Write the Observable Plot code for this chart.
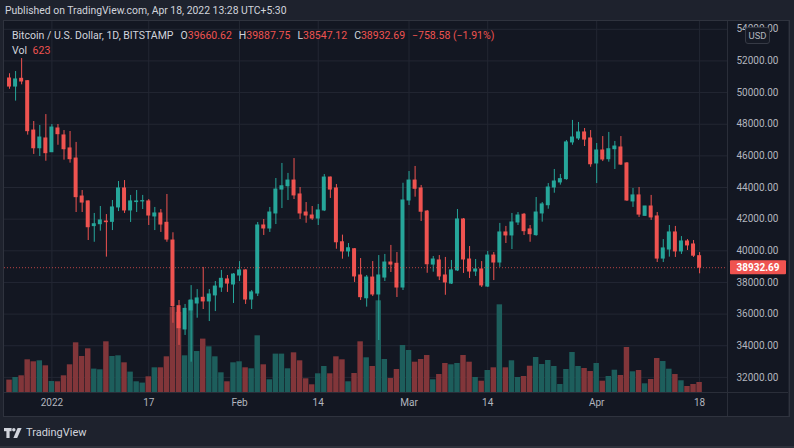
<!DOCTYPE html>
<html><head><meta charset="utf-8">
<script src="https://cdn.jsdelivr.net/npm/d3@7"></script>
<script src="https://cdn.jsdelivr.net/npm/@observablehq/plot@0.6"></script>
<style>
body{margin:0;background:#1e222d;}
#wrap{position:relative;width:794px;height:448px;overflow:hidden;background:#1e222d;font-family:Roboto,"Noto Sans",sans-serif;}
#hdr{position:absolute;left:5px;top:4px;font-size:10.4px;color:#d1d4dc;white-space:nowrap;}
#chart{position:absolute;left:4px;top:20px;width:784px;height:396px;background:#131722;overflow:hidden;}
#chart svg{position:absolute;left:0;top:0;}
#frame{position:absolute;left:3px;top:20px;width:785px;height:395px;border:1px solid #2f333e;pointer-events:none;}
#hline{position:absolute;left:4px;top:392px;width:784px;height:1px;background:#2a2e39;}
#vline{position:absolute;left:727px;top:20px;width:1px;height:396px;background:#2a2e39;}
#legend{position:absolute;left:12px;top:28px;font-size:10.5px;color:#d1d4dc;white-space:nowrap;line-height:15px;}
#legend .v{color:#ef5350;}
#legend .g{margin-left:7px;}
#usd{position:absolute;left:745px;top:27px;width:23px;height:15px;border:1px solid #363a45;border-radius:3px;background:#161a25;color:#b2b5be;font-size:9.5px;text-align:center;line-height:15px;}
#foot{position:absolute;left:4px;top:426px;height:13px;display:flex;align-items:center;color:#d1d4dc;font-size:11px;}
#foot svg{margin-right:4px;}
#bottomstrip{position:absolute;left:0;top:446px;width:794px;height:2px;background:#2e323c;}
</style></head>
<body>
<div id="wrap">
  <div id="hdr">Published on TradingView.com, Apr 18, 2022 13:28 UTC+5:30</div>
  <div id="chart"></div>
  <div id="hline"></div>
  <div id="vline"></div>
  <div id="frame"></div>
  <div id="legend"></div>
  <div id="usd">USD</div>
  <div id="foot"><svg width="18" height="10" viewBox="0 0 18 10"><rect x="0" y="0" width="7.6" height="3.2" fill="#d1d4dc"/><rect x="2.4" y="0" width="3.2" height="10" fill="#d1d4dc"/><circle cx="9.8" cy="1.7" r="1.7" fill="#d1d4dc"/><polygon points="13.6,0 17.6,0 13.2,10 9.4,10" fill="#d1d4dc"/></svg><span>TradingView</span></div>
  <div id="bottomstrip"></div>
</div>
<script>
// ---- data (BTC/USD, 1D, Bitstamp) ----
const firstDay = "2021-12-25";
const open = [
50890,50380,50870,50720,47600,46480,47100,46230,47730,47290,
46470,45830,43430,43120,41560,41680,41850,41830,42740,43940,
42550,43080,43120,43120,42170,42360,41770,40650,36500,35030,
36230,36670,37030,36800,37180,37680,38190,37870,38440,38760,
36920,37300,41600,41410,42360,43870,44080,44440,43560,42420,
42230,42040,42550,44630,43940,40540,39960,40100,38440,37000,
38310,37240,38310,39260,39180,37680,43180,44440,43940,42480,
39130,39390,38440,37930,38760,41980,39450,38690,38820,37740,
39700,39260,41160,40970,41790,42280,41350,40990,42360,42880,
44000,44320,44530,46850,47100,47480,47100,45520,46340,45790,
46420,46530,45520,43120,43500,42210,42800,42170,39510,40080,
41160,39960,40590,40400,39660.62];
const high = [
51190,51330,52150,50760,48170,47920,48610,47980,47980,47600,
47540,46850,43810,43150,42360,42800,42290,43180,44380,44440,
43500,43810,43500,43240,42740,42610,43560,41140,36860,36610,
37800,37550,38950,37550,38060,38760,38440,38560,39320,38800,
37490,41790,41980,42740,44570,45520,44890,45830,44000,43050,
42800,42930,44820,44660,44190,40990,40460,40140,39510,38440,
39320,39700,39770,40340,39890,44270,45010,45330,44130,42550,
39640,39700,39580,39390,42610,42040,40270,39450,39320,39960,
39890,41730,41540,42360,42420,42360,41600,43370,43050,44250,
45140,44820,46970,48240,48110,47730,47600,46780,47220,47480,
46910,47220,45580,43940,44000,42810,43500,42420,40710,41600,
41540,40900,40710,40650,39887.75];
const low = [
50210,49460,50490,47310,46090,45960,45660,46210,46670,45730,
45540,42420,42420,40650,40540,41240,39600,41280,42480,42360,
41790,42420,42610,41600,41280,41160,40540,35420,34020,34650,
32960,35740,36290,35530,36160,37370,37370,36670,38060,36610,
36290,37110,40970,41160,41660,42670,43180,43240,41980,41740,
41920,41600,42480,43310,40100,39470,39600,38000,36860,36440,
37110,34330,38060,38630,37050,37490,42860,43390,41850,38580,
38650,38120,37190,37870,38690,38570,38250,38380,37680,37680,
38120,38950,40460,40080,41600,40970,40540,40920,41810,42630,
43640,44150,44460,46670,46970,46590,45280,44250,45640,45600,
45140,45390,43120,42740,42110,42170,41920,39260,39260,39600,
39580,39770,40020,39580,38547.12];
const close = [
50380,50830,50700,47560,46480,47160,46170,47790,47370,46420,
45790,43390,43050,41490,41680,41920,41810,42740,43940,42550,
43120,43120,43140,42230,42360,41660,40710,36500,35110,36330,
36860,36990,36800,37240,37740,38230,37930,38500,38760,36920,
37370,41600,41410,42420,43870,44080,44440,43500,42360,42230,
42040,42550,44630,43870,40540,39960,40160,38380,37070,38310,
37240,38440,39260,39130,37680,43180,44440,43920,42470,39150,
39450,38380,38000,38760,41980,39450,38690,38820,37810,39700,
39260,41160,40970,41790,42230,41240,41050,42420,42930,44000,
44380,44530,46850,47160,47480,47030,45470,46340,45770,46420,
46590,45450,43180,43500,42290,42800,42110,39510,40150,41160,
39960,40590,40340,39691.27,38932.69];
const volume = [
773,935,1040,2037,1913,1975,1663,685,667,1040,
1726,3096,2243,2723,1458,1414,3159,2243,2286,1850,
1271,667,586,978,1539,1539,2224,5300,4990,2286,
5732,2554,3327,2847,2224,1227,667,1850,1913,1539,
1477,3532,1726,791,2392,2392,1477,2473,1975,854,
480,1165,1620,1165,2224,2037,667,1184,3159,2162,
1620,5713,2056,872,1433,2928,2617,1888,2056,2305,
791,1121,1807,1726,1807,2305,1888,935,704,1371,
1539,5464,1539,1975,935,997,1638,2181,1744,1994,
1620,498,1433,2492,1620,1495,1308,1807,704,997,
1389,1059,2804,1290,1371,542,810,2118,1931,1452,
1121,729,374,498,623];
const priceTicks = [32000,34000,36000,38000,40000,42000,44000,46000,48000,50000,52000,54000];
const xTickDates = ["2022-01-01","2022-01-17","2022-02-01","2022-02-14","2022-03-01","2022-03-14","2022-04-01","2022-04-18"];
const xTickLabels = ["2022","17","Feb","14","Mar","14","Apr","18"];

// ---- build ----
const UP = "#26a69a", DOWN = "#ef5350";
const UPV = "#1d5e5c", DOWNV = "#82363a";
const DAY = 864e5;
const t0 = Date.parse(firstDay + "T00:00:00Z");
const rows = open.map((o, i) => ({
  date: new Date(t0 + i * DAY), o, h: high[i], l: low[i], c: close[i], v: volume[i], up: close[i] >= o
}));
const ticks = xTickDates.map(s => new Date(s + "T00:00:00Z"));
const jan1 = Date.parse("2022-01-01T00:00:00Z");
const xDomain = [new Date(jan1 - 7.831 * DAY), new Date(jan1 + 111.61 * DAY)];
const W = 784, H = 396;
const base = {
  width: W, height: H, marginLeft: 0, marginRight: 61, marginTop: 0, marginBottom: 24,
  x: {type: "utc", domain: xDomain, axis: null},
  color: {type: "identity"},
  style: {background: "transparent", fontFamily: "Roboto, 'Noto Sans', sans-serif", fontSize: "10px", overflow: "visible"}
};
const yPrice = {domain: [31045, 54555], axis: null};

const gridPlot = Plot.plot({
  ...base, y: yPrice,
  marks: [
    Plot.ruleY(priceTicks, {y: d => d, stroke: "#232733", strokeWidth: 1}),
    Plot.ruleX(ticks, {x: d => d, stroke: "#232733", strokeWidth: 1}),
    Plot.text(priceTicks, {y: d => d, text: d => d.toFixed(2), frameAnchor: "right", dx: 9, textAnchor: "start", fill: "#b2b5be", fontSize: 10}),
    Plot.text(ticks, {x: d => d, text: (d, i) => xTickLabels[i], frameAnchor: "bottom", dy: 13, fill: "#b2b5be", fontSize: 10})
  ]
});

const volPlot = Plot.plot({
  ...base, y: {domain: [0, 23180], axis: null},
  marks: [
    Plot.rectY(rows, {
      x1: d => new Date(+d.date - 0.45 * DAY), x2: d => new Date(+d.date + 0.45 * DAY),
      y1: 0, y2: "v", fill: d => d.up ? UPV : DOWNV
    })
  ]
});

const last = rows[rows.length - 1];
const candlePlot = Plot.plot({
  ...base, y: yPrice,
  marks: [
    Plot.ruleX(rows, {x: "date", y1: "l", y2: "h", stroke: d => d.up ? UP : DOWN, strokeWidth: 1}),
    Plot.rect(rows, {
      x1: d => new Date(+d.date - 0.33 * DAY), x2: d => new Date(+d.date + 0.33 * DAY),
      y1: "o", y2: "c", fill: d => d.up ? UP : DOWN, insetTop: -0.5, insetBottom: -0.5
    }),
    Plot.ruleY([last.c], {y: d => d, stroke: DOWN, strokeOpacity: 0.75, strokeDasharray: "1,2"})
  ]
});

const host = document.getElementById("chart");
host.append(gridPlot, volPlot, candlePlot);

// last-price label on the price scale
const yy = candlePlot.scale("y").apply(last.c);
const svg = d3.select(candlePlot);
const lx = W - 61 + 3;
svg.append("rect").attr("x", lx).attr("y", yy - 7).attr("width", 56).attr("height", 14).attr("rx", 1).attr("fill", DOWN);
svg.append("text").attr("x", lx + 28).attr("y", yy).attr("dy", "0.35em").attr("text-anchor", "middle")
  .attr("fill", "#ffffff").attr("font-weight", "bold").attr("font-size", 10).text(last.c.toFixed(2));

// legend
const prev = rows[rows.length - 2].c;
const chg = last.c - prev;
const pct = chg / prev * 100;
const fmt = v => v.toFixed(2);
document.getElementById("legend").innerHTML =
  `<div>Bitcoin / U.S. Dollar, 1D, BITSTAMP` +
  `<span class="g">O</span><span class="v">${fmt(last.o)}</span>` +
  `<span class="g">H</span><span class="v">${fmt(last.h)}</span>` +
  `<span class="g">L</span><span class="v">${fmt(last.l)}</span>` +
  `<span class="g">C</span><span class="v">${fmt(last.c)}</span>` +
  `<span class="v g">\u2212${fmt(Math.abs(chg))} (\u2212${Math.abs(pct).toFixed(2)}%)</span></div>` +
  `<div>Vol <span class="v" style="margin-left:3px">${last.v}</span></div>`;
</script>
</body></html>
